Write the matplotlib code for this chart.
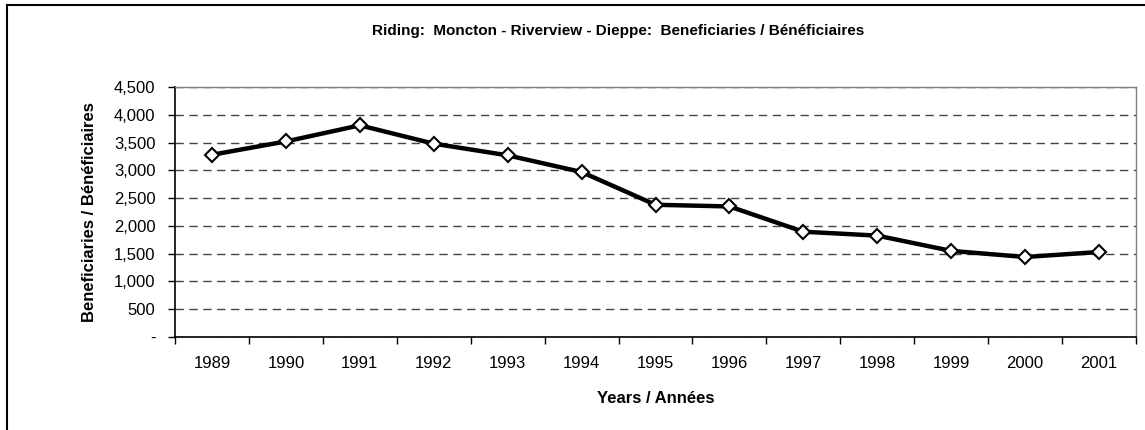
import matplotlib
matplotlib.use("Agg")
import matplotlib.pyplot as plt
from matplotlib.lines import Line2D
from matplotlib.ticker import FuncFormatter

plt.rcParams['font.family'] = ['Liberation Sans', 'DejaVu Sans']

years = ['1989', '1990', '1991', '1992', '1993', '1994', '1995',
         '1996', '1997', '1998', '1999', '2000', '2001']
beneficiaries = [3280, 3520, 3810, 3480, 3270, 2970, 2380,
                 2350, 1895, 1825, 1550, 1440, 1530]
yticks = [0, 500, 1000, 1500, 2000, 2500, 3000, 3500, 4000, 4500]

fig = plt.figure(figsize=(11.45, 4.3), dpi=100)
ax = fig.add_axes([175 / 1145, 1 - 337 / 430, (1136 - 175) / 1145, 250 / 430])

x = list(range(len(years)))
ax.plot(x, beneficiaries, color='black', lw=3.2, marker='D', markersize=7.5,
        markerfacecolor='white', markeredgecolor='black', markeredgewidth=1.5,
        zorder=3)

ax.set_xlim(-0.5, len(years) - 0.5)
ax.set_ylim(0, 4500)
ax.set_yticks(yticks)
ax.yaxis.set_major_formatter(FuncFormatter(lambda v, p: '-' if v == 0 else f'{int(v):,}'))
ax.set_xticks(x)
ax.set_xticklabels(years)
ax.set_xticks([i - 0.5 for i in range(len(years) + 1)], minor=True)
ax.tick_params(axis='x', which='major', length=0, pad=14, labelsize=12)
ax.tick_params(axis='x', which='minor', length=5, direction='out', width=1)
ax.tick_params(axis='y', length=5, direction='out', width=1, pad=9, labelsize=12)

ax.grid(axis='y', color='#444444', linestyle=(0, (6, 4)), lw=1)
ax.set_axisbelow(True)
for s in ['top', 'right']:
    ax.spines[s].set_color('#808080')
    ax.spines[s].set_linewidth(1)
for s in ['left', 'bottom']:
    ax.spines[s].set_color('black')
    ax.spines[s].set_linewidth(1.2)

ax.set_xlabel('Years / Années', fontsize=12, fontweight='bold', labelpad=14)
ax.set_ylabel('Beneficiaries / Bénéficiaires', fontsize=12, fontweight='bold', labelpad=12)

fig.text(0.54, 1 - 31 / 430, 'Riding:  Moncton - Riverview - Dieppe:  Beneficiaries / Bénéficiaires',
         ha='center', va='center', fontsize=11, fontweight='bold')

# outer chart frame
fig.add_artist(Line2D([7 / 1145, 7 / 1145], [0, 1 - 5 / 430], color='black', lw=1.5,
                      transform=fig.transFigure))
fig.add_artist(Line2D([7 / 1145, 1], [1 - 5 / 430, 1 - 5 / 430], color='black', lw=1.5,
                      transform=fig.transFigure))

fig.savefig('out.png', dpi=100)
